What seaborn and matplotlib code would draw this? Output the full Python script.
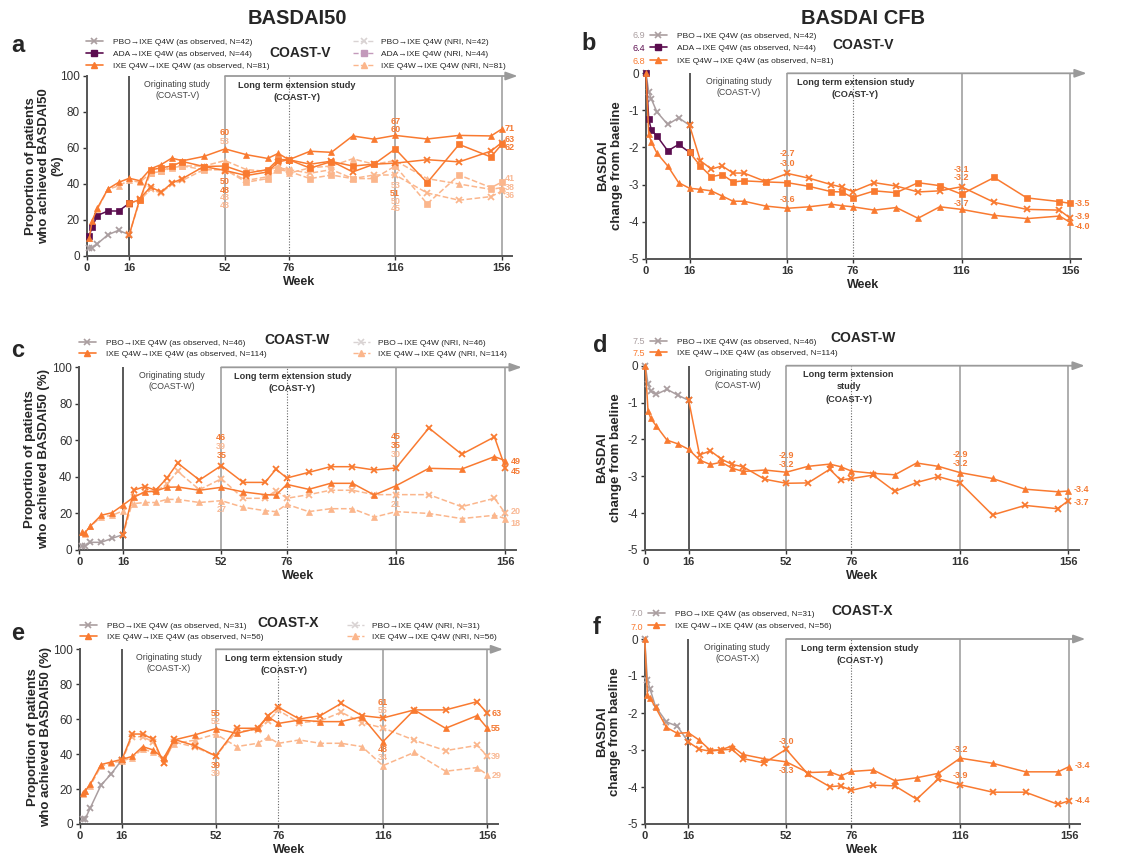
import numpy as np
import matplotlib
matplotlib.use('Agg')
import matplotlib.pyplot as plt
import seaborn as sns
from matplotlib.lines import Line2D

sns.set_style('ticks')
plt.rcParams['font.family'] = ['Liberation Sans', 'DejaVu Sans']
plt.rcParams['axes.unicode_minus'] = False

# ---------------- data ----------------
weeks50 = [1, 2, 4, 8, 12, 16, 20, 24, 28, 32, 36, 44, 52, 60, 68, 72, 76, 84, 92,
           100, 108, 116, 128, 140, 152, 156]
weeks_cfb = [0] + weeks50
weeks_nri = weeks50[5:]          # NRI curves drawn from week 16 on
xtick_weeks = [0, 16, 52, 76, 116, 156]
xtick_labels = ['0', '16', '52', '76', '116', '156']
xtick_labels_b = ['0', '16', '16', '76', '116', '156']   # as printed in panel b

# a: BASDAI50, COAST-V
a_pbo_obs = [4.7, 4.5, 6.8, 11.8, 14.3, 11.8, 31.9, 38.3, 35.5, 40.5, 43, 49.7, 47.5, 44.7,
             46.7, 52.3, 53.5, 51, 52.7, 46.7, 51, 51.6, 53.5, 52.3, 58.3, 63]
a_ada_obs = [11.3, 16, 22.5, 25, 25, 29.3, 31.3, 47.8, 49, 50, 52.5, 49.7, 50, 46, 48, 53.6,
             53.5, 48.8, 52.5, 50, 51, 59.5, 40.7, 62, 55, 62]
a_ixe_obs = [10, 19.5, 26.6, 37.3, 40.9, 43.2, 41.8, 48.4, 50.8, 54.4, 52.9, 55.3, 59.5, 56.3,
             54.2, 57, 53.5, 58.2, 57.6, 66.7, 64.9, 67, 65, 67, 66.7, 70.5]
a_pbo_nri = [12, 31, 37, 35, 40, 42, 48, 48, 42, 44, 49, 48, 46, 48, 43, 45, 45, 35, 31, 33, 36]
a_ada_nri = [29, 31, 46, 47, 49, 50, 48, 48, 41, 43, 48, 47, 43, 45, 43, 43, 50, 29, 45, 38, 41]
a_ixe_nri = [10, 19, 26, 37, 39, 42, 41, 46, 47, 50, 50, 50, 53, 48, 47, 50, 46, 49, 50, 54,
             51, 53, 43, 40, 37, 38]

# b: BASDAI CFB, COAST-V
b_pbo = [0, -0.5, -0.7, -1.04, -1.38, -1.2, -1.4, -2.36, -2.58, -2.5, -2.69, -2.69, -2.92,
         -2.7, -2.83, -3.0, -3.07, -3.19, -2.95, -3.04, -3.2, -3.17, -3.06, -3.48, -3.67,
         -3.69, -3.91]
b_ada = [0, -1.23, -1.54, -1.69, -2.09, -1.92, -2.13, -2.5, -2.79, -2.73, -2.93, -2.9, -2.93,
         -2.95, -3.05, -3.19, -3.2, -3.35, -3.17, -3.22, -2.95, -3.03, -3.26, -2.81, -3.36,
         -3.46, -3.51]
b_ixe = [0, -1.65, -1.86, -2.15, -2.5, -2.95, -3.1, -3.13, -3.17, -3.31, -3.45, -3.45, -3.58,
         -3.64, -3.6, -3.53, -3.57, -3.6, -3.69, -3.62, -3.91, -3.6, -3.67, -3.83, -3.92,
         -3.85, -4.02]
b_baseline = ['6.9', '6.4', '6.8']

# c: BASDAI50, COAST-W
c_pbo_obs = [2, 2, 4.2, 4.2, 6.4, 8.4, 32.8, 34.7, 32.7, 39.2, 47.6, 38.3, 46.2, 37, 37, 44.2,
             39.4, 42.5, 45.6, 45.6, 43.8, 44.9, 66.8, 52.4, 61.9, 44.9]
c_ixe_obs = [10, 9.3, 13, 19, 20.4, 24.6, 29, 31.8, 32.3, 34.3, 34.5, 32.7, 34.3, 31.8, 30.3,
             30.1, 35.9, 33.2, 36.5, 36.5, 30.1, 35.2, 44.7, 44.3, 51.1, 48.9]
c_pbo_nri = [8, 29, 32, 32, 36, 43, 33, 39, 28.3, 28.3, 32.5, 28.3, 30.3, 32.7, 32.7, 30.3,
             30.3, 30.3, 23.7, 28.3, 20]
c_ixe_nri = [10, 9, 13, 18, 19, 21.4, 25.4, 26, 26, 27.7, 27.7, 26, 27, 23.4, 21.5, 21, 25, 21,
             22.6, 22.6, 18, 21, 20, 17.2, 19, 17.2]

# d: BASDAI CFB, COAST-W
d_pbo = [0, -0.5, -0.69, -0.78, -0.64, -0.8, -0.94, -2.42, -2.31, -2.53, -2.68, -2.74, -3.08,
         -3.19, -3.18, -2.81, -3.1, -3.06, -2.97, -3.41, -3.17, -3.01, -3.17, -4.05, -3.79,
         -3.88, -3.66]
d_ixe = [0, -1.22, -1.43, -1.63, -2.02, -2.12, -2.27, -2.56, -2.68, -2.62, -2.78, -2.87, -2.83,
         -2.89, -2.73, -2.67, -2.74, -2.86, -2.92, -2.96, -2.64, -2.73, -2.9, -3.06, -3.35,
         -3.42, -3.4]
d_baseline = ['7.5', '7.5']

# e: BASDAI50, COAST-X
e_pbo_obs = [3, 3, 9.4, 22.1, 28.8, 36.6, 51.5, 51.5, 48.5, 35.1, 48.5, 44.8, 38.9, 54.8, 54.8,
             62, 66.8, 60.1, 62, 69, 62, 60.7, 65.3, 65.3, 70, 63.4]
e_ixe_obs = [17.6, 19, 22.9, 34, 35.5, 37, 38.7, 44.3, 42.4, 37.6, 48.1, 51, 54.6, 51.9, 54.8,
             61.3, 57.6, 59.5, 58.6, 58.6, 61.5, 47.1, 65.3, 54.8, 62, 54.8]
e_pbo_nri = [36, 50, 50, 47, 35, 47, 44, 39, 53, 54, 59, 65, 58, 59, 64, 58, 55, 48, 42, 45, 39]
e_ixe_nri = [17, 19, 22, 33, 35, 36, 38, 43, 41, 37, 46, 48, 51.5, 44.3, 46.2, 49.6, 46.2, 48.1,
             46.2, 46.2, 44.3, 33.4, 41, 30.2, 32.3, 28.2]

# f: BASDAI CFB, COAST-X
f_pbo = [0, -1.11, -1.36, -1.83, -2.24, -2.36, -2.78, -2.98, -3.03, -3.0, -2.98, -3.23, -3.35,
         -2.98, -3.65, -3.99, -3.97, -4.09, -3.95, -3.97, -4.33, -3.78, -3.94, -4.14, -4.14,
         -4.47, -4.37]
f_ixe = [0, -1.51, -1.6, -1.85, -2.39, -2.55, -2.53, -2.73, -3.0, -3.0, -2.89, -3.12, -3.24,
         -3.32, -3.61, -3.59, -3.7, -3.58, -3.54, -3.83, -3.75, -3.63, -3.22, -3.36, -3.59,
         -3.59, -3.45]
f_baseline = ['7.0', '7.0']

# ---------------- style ----------------
ORANGE = '#f97a30'
LIGHT = '#fbb68c'
GREY = '#aa9ea0'
PURPLE = '#5b0d4f'
LGREY = '#d9d3d3'
LPURPLE = '#c39abb'
LAB_O = '#f47a34'
LAB_N = '#f9b995'

FW, FH = 1148, 860
fig = plt.figure(figsize=(FW / 100, FH / 100), dpi=100)


def px_axes(left, top, width, height):
    return fig.add_axes([left / FW, 1 - (top + height) / FH, width / FW, height / FH])


def ftext(x, y, s, **kw):
    fig.text(x / FW, 1 - y / FH, s, **kw)


def series(ax, x, y, color, marker, ls='-', z=3):
    ms = 5 if marker == 'x' else 4.3
    mew = 1.3 if marker == 'x' else 0.5
    sns.lineplot(x=x, y=y, ax=ax, color=color, marker=marker, markersize=ms,
                 markeredgecolor=color, markerfacecolor=color, markeredgewidth=mew,
                 linestyle=ls, linewidth=1.1, estimator=None, sort=False,
                 clip_on=False, zorder=z)


def two_tone(ax, x, y, c_early, c_late, marker):
    x = np.asarray(x)
    y = np.asarray(y)
    m1 = x <= 16
    m2 = x >= 16
    series(ax, x[m1], y[m1], c_early, marker)
    series(ax, x[m2], y[m2], c_late, marker, z=4)


def frame(ax, h_px, ylim, yticks, xlabels, ylabel, ylab_x, study, ext, ext_x=78):
    ymin, ymax = ylim
    ax.set_xlim(0, 160)
    ax.set_ylim(ymin, ymax)
    for s in ['top', 'right']:
        ax.spines[s].set_visible(False)
    for s in ['left', 'bottom']:
        ax.spines[s].set_color('#555555')
        ax.spines[s].set_linewidth(1.4)
    ax.set_xticks(xtick_weeks)
    ax.set_xticklabels(xlabels, fontweight='bold', fontsize=8)
    ax.set_yticks(yticks)
    ax.tick_params(axis='y', labelsize=8.5)
    ax.tick_params(colors='#333333', length=3, width=1, pad=2)
    ax.vlines(16, ymin, ymax, color='#2b2b2b', lw=1.1, zorder=1)
    ax.vlines([52, 116, 156], ymin, ymax, color='#a8a8a8', lw=1.3, zorder=1)
    ax.vlines(76, ymin, ymax, color='#666666', lw=0.8, linestyles=(0, (1, 1.5)), zorder=1)
    ax.annotate('', xy=(162, ymax), xytext=(52, ymax),
                arrowprops=dict(arrowstyle='-|>,head_length=0.7,head_width=0.25',
                                color='#9a9a9a', lw=1.3, shrinkA=0, shrinkB=0),
                annotation_clip=False)
    ax.text(34, ymax - (ymax - ymin) * 0.02, 'Originating study\n(' + study + ')',
            ha='center', va='top', fontsize=6.3, color='#444444', linespacing=1.35)
    ax.text(ext_x, ymax - (ymax - ymin) * 0.025, ext, ha='center', va='top',
            fontsize=6.6, fontweight='bold', color='#333333', linespacing=1.45)
    ax.set_xlabel('Week', fontweight='bold', fontsize=9)
    ax.xaxis.set_label_coords(0.5, -20 / h_px)
    ax.set_ylabel(ylabel, fontweight='bold', fontsize=9.5, linespacing=1.15)
    ax.yaxis.set_label_coords(ylab_x, 0.5)
    ax.yaxis.label.set_va('center')


def put_labels(ax, items, x_right):
    for wk, y, s, kind in items:
        xx = x_right if wk == 'R' else wk
        ha = 'left' if wk == 'R' else 'center'
        ax.text(xx, y, s, ha=ha, va='center', fontsize=6.5, fontweight='bold',
                color=LAB_O if kind == 'o' else LAB_N, clip_on=False, zorder=6)


def legend(handles, labels, x, ymid, hl=2.0, pad=1.2, ls=0.45):
    fig.legend(handles, labels, loc='center left', bbox_to_anchor=(x / FW, 1 - ymid / FH),
               frameon=False, fontsize=6, handlelength=hl, handletextpad=pad,
               labelspacing=ls, borderpad=0, borderaxespad=0)


h_pbo = Line2D([], [], color=GREY, marker='x', ms=4.5, mew=1.2, lw=1.2)
h_ada = Line2D([], [], color=PURPLE, marker='s', ms=4, lw=1.2)
h_ixe = Line2D([], [], color=ORANGE, marker='^', ms=4.5, lw=1.2)
n_pbo = Line2D([], [], color=LGREY, marker='x', ms=4.5, mew=1.2, lw=1, ls='--')
n_ada = Line2D([], [], color=LPURPLE, marker='s', ms=4, lw=1, ls='--')
n_ixe = Line2D([], [], color=LIGHT, marker='^', ms=4.5, lw=1, ls='--')

EXT = 'Long term extension study\n(COAST-Y)'
Y50 = 'Proportion of patients\nwho achieved BASDAI50 (%)'
YCFB = 'BASDAI\nchange from baeline'
Y50T = [0, 20, 40, 60, 80, 100]
YCT = [0, -1, -2, -3, -4, -5]

# ---------------- panel a ----------------
ax = px_axes(86.7, 76, 425.6, 180)
frame(ax, 180, (0, 100), Y50T, xtick_labels,
      'Proportion of patients\nwho achieved BASDAI50\n(%)', -0.1, 'COAST-V', EXT, 79)
series(ax, weeks_nri, a_pbo_nri, LIGHT, 'x', '--', 2)
series(ax, weeks_nri, a_ada_nri, LIGHT, 's', '--', 2)
series(ax, weeks50, a_ixe_nri, LIGHT, '^', '--', 2)
two_tone(ax, weeks50, a_pbo_obs, GREY, ORANGE, 'x')
two_tone(ax, weeks50, a_ada_obs, PURPLE, ORANGE, 's')
series(ax, weeks50, a_ixe_obs, ORANGE, '^')
put_labels(ax, [(52, 68.8, '60', 'o'), (52, 63.5, '53', 'n'), (52, 41.6, '50', 'o'),
                (52, 36.6, '48', 'o'), (52, 32.3, '48', 'n'), (52, 28.1, '48', 'n'),
                (116, 75, '67', 'o'), (116, 70.3, '60', 'o'), (116, 39.4, '53', 'n'),
                (116, 34.9, '51', 'o'), (116, 30.4, '50', 'n'), (116, 26.3, '45', 'n'),
                ('R', 71, '71', 'o'), ('R', 65, '63', 'o'), ('R', 60, '62', 'o'),
                ('R', 43, '41', 'n'), ('R', 38.3, '38', 'n'), ('R', 33.8, '36', 'n')], 157.3)
legend([h_pbo, h_ada, h_ixe], ['PBO→IXE Q4W (as observed, N=42)',
                               'ADA→IXE Q4W (as observed, N=44)',
                               'IXE Q4W→IXE Q4W (as observed, N=81)'], 86, 54)
legend([n_pbo, n_ada, n_ixe], ['PBO→IXE Q4W (NRI, N=42)', 'ADA→IXE Q4W (NRI, N=44)',
                               'IXE Q4W→IXE Q4W (NRI, N=81)'], 353, 54, hl=2.6, pad=0.8)
ftext(300, 53, 'COAST-V', ha='center', va='center', fontsize=10, fontweight='bold')

# ---------------- panel b ----------------
ax = px_axes(646, 73.3, 435.2, 185.4)
frame(ax, 185.4, (-5, 0), YCT, xtick_labels_b, YCFB, -0.083, 'COAST-V', EXT, 77)
two_tone(ax, weeks_cfb, b_pbo, GREY, ORANGE, 'x')
two_tone(ax, weeks_cfb, b_ada, PURPLE, ORANGE, 's')
series(ax, weeks_cfb, b_ixe, ORANGE, '^')
put_labels(ax, [(52, -2.16, '-2.7', 'o'), (52, -2.43, '-3.0', 'o'), (52, -3.4, '-3.6', 'o'),
                (116, -2.59, '-3.1', 'o'), (116, -2.81, '-3.2', 'o'), (116, -3.51, '-3.7', 'o'),
                ('R', -3.5, '-3.5', 'o'), ('R', -3.87, '-3.9', 'o'),
                ('R', -4.14, '-4.0', 'o')], 157.7)
legend([h_pbo, h_ada, h_ixe], ['PBO→IXE Q4W (as observed, N=42)',
                               'ADA→IXE Q4W (as observed, N=44)',
                               'IXE Q4W→IXE Q4W (as observed, N=81)'], 650, 48.5, ls=0.58)
for val, col, yy in zip(b_baseline, [GREY, PURPLE, ORANGE], [35, 48.5, 62]):
    ftext(645, yy, val, ha='right', va='center', fontsize=6.5, color=col)
ftext(863, 45, 'COAST-V', ha='center', va='center', fontsize=10, fontweight='bold')

# ---------------- panel c ----------------
ax = px_axes(79.3, 367.3, 437, 182.7)
frame(ax, 182.7, (0, 100), Y50T, xtick_labels, Y50, -0.097, 'COAST-W', EXT, 78)
series(ax, weeks_nri, c_pbo_nri, LIGHT, 'x', '--', 2)
series(ax, weeks50, c_ixe_nri, LIGHT, '^', '--', 2)
two_tone(ax, weeks50, c_pbo_obs, GREY, ORANGE, 'x')
series(ax, weeks50, c_ixe_obs, ORANGE, '^')
put_labels(ax, [(52, 61.5, '46', 'o'), (52, 56.6, '39', 'n'), (52, 51.6, '35', 'o'),
                (52, 21.9, '27', 'n'), (116, 61.9, '45', 'o'), (116, 57.1, '35', 'o'),
                (116, 52.2, '30', 'n'), (116, 25, '21', 'n'),
                ('R', 48.5, '49', 'o'), ('R', 42.7, '45', 'o'), ('R', 21, '20', 'n'),
                ('R', 14.6, '18', 'n')], 158)
legend([h_pbo, h_ixe], ['PBO→IXE Q4W (as observed, N=46)',
                        'IXE Q4W→IXE Q4W (as observed, N=114)'], 79, 348.5)
legend([n_pbo, n_ixe], ['PBO→IXE Q4W (NRI, N=46)', 'IXE Q4W→IXE Q4W (NRI, N=114)'],
       353, 348.5, hl=2.0, pad=1.0)
ftext(297, 340, 'COAST-W', ha='center', va='center', fontsize=10, fontweight='bold')

# ---------------- panel d ----------------
ax = px_axes(645.3, 365.7, 434, 184.3)
frame(ax, 184.3, (-5, 0), YCT, xtick_labels, YCFB, -0.083, 'COAST-W',
      'Long term extension\nstudy\n(COAST-Y)', 75)
two_tone(ax, weeks_cfb, d_pbo, GREY, ORANGE, 'x')
series(ax, weeks_cfb, d_ixe, ORANGE, '^')
put_labels(ax, [(52, -2.44, '-2.9', 'o'), (52, -2.69, '-3.2', 'o'),
                (116, -2.41, '-2.9', 'o'), (116, -2.65, '-3.2', 'o'),
                ('R', -3.37, '-3.4', 'o'), ('R', -3.71, '-3.7', 'o')], 158)
legend([h_pbo, h_ixe], ['PBO→IXE Q4W (as observed, N=46)',
                        'IXE Q4W→IXE Q4W (as observed, N=114)'], 650, 347.5)
for val, col, yy in zip(d_baseline, [GREY, ORANGE], [341, 354]):
    ftext(645, yy, val, ha='right', va='center', fontsize=6.5, color=col)
ftext(863, 338, 'COAST-W', ha='center', va='center', fontsize=10, fontweight='bold')

# ---------------- panel e ----------------
ax = px_axes(80, 649.3, 417.8, 174.7)
frame(ax, 174.7, (0, 100), Y50T, xtick_labels, Y50, -0.097, 'COAST-X', EXT, 78)
series(ax, weeks_nri, e_pbo_nri, LIGHT, 'x', '--', 2)
series(ax, weeks50, e_ixe_nri, LIGHT, '^', '--', 2)
two_tone(ax, weeks50, e_pbo_obs, GREY, ORANGE, 'x')
series(ax, weeks50, e_ixe_obs, ORANGE, '^')
put_labels(ax, [(52, 63.4, '55', 'o'), (52, 58.4, '52', 'n'), (52, 33.2, '39', 'o'),
                (52, 29, '39', 'n'), (116, 69.7, '61', 'o'), (116, 65, '55', 'n'),
                (116, 42.7, '48', 'o'), (116, 38, '34', 'n'),
                ('R', 63, '63', 'o'), ('R', 54.8, '55', 'o'), ('R', 38.5, '39', 'n'),
                ('R', 27.9, '29', 'n')], 157.5)
legend([h_pbo, h_ixe], ['PBO→IXE Q4W (as observed, N=31)',
                        'IXE Q4W→IXE Q4W (as observed, N=56)'], 80, 631.5)
legend([n_pbo, n_ixe], ['PBO→IXE Q4W (NRI, N=31)', 'IXE Q4W→IXE Q4W (NRI, N=56)'],
       347, 631.5, hl=2.0, pad=1.0)
ftext(288, 623, 'COAST-X', ha='center', va='center', fontsize=10, fontweight='bold')

# ---------------- panel f ----------------
ax = px_axes(644.7, 639, 435.2, 185)
frame(ax, 185, (-5, 0), YCT, xtick_labels, YCFB, -0.083, 'COAST-X', EXT, 79)
two_tone(ax, weeks_cfb, f_pbo, GREY, ORANGE, 'x')
series(ax, weeks_cfb, f_ixe, ORANGE, '^')
put_labels(ax, [(52, -2.76, '-3.0', 'o'), (52, -3.56, '-3.3', 'o'),
                (116, -3.0, '-3.2', 'o'), (116, -3.69, '-3.9', 'o'),
                ('R', -3.42, '-3.4', 'o'), ('R', -4.37, '-4.4', 'o')], 158.2)
legend([h_pbo, h_ixe], ['PBO→IXE Q4W (as observed, N=31)',
                        'IXE Q4W→IXE Q4W (as observed, N=56)'], 648, 620)
for val, col, yy in zip(f_baseline, [GREY, ORANGE], [613, 627]):
    ftext(643, yy, val, ha='right', va='center', fontsize=6.5, color=col)
ftext(862, 611, 'COAST-X', ha='center', va='center', fontsize=10, fontweight='bold')

# ---------------- titles and panel letters ----------------
ftext(297, 19, 'BASDAI50', ha='center', va='center', fontsize=14.5, fontweight='bold')
ftext(863, 18, 'BASDAI CFB', ha='center', va='center', fontsize=14.5, fontweight='bold')
for lt, x, y in [('a', 18, 45), ('b', 589, 43), ('c', 18, 350), ('d', 600, 345),
                 ('e', 18, 634), ('f', 597, 628)]:
    ftext(x, y, lt, ha='center', va='center', fontsize=17, fontweight='bold')

fig.savefig('out.png', dpi=100)
